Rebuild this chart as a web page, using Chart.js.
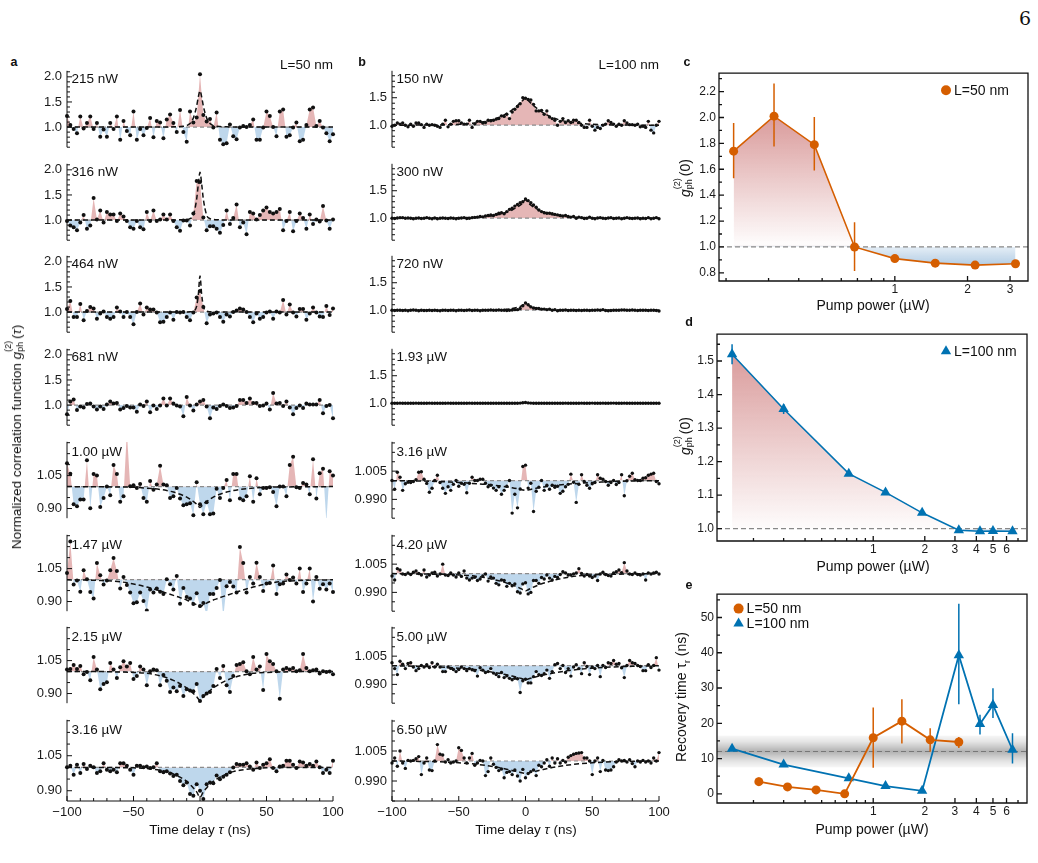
<!DOCTYPE html>
<html>
<head>
<meta charset="utf-8">
<title>Photon correlation g2 vs pump power</title>
<script src="https://cdn.jsdelivr.net/npm/chart.js@4.4.1/dist/chart.umd.min.js"></script>
<style>
  html, body { margin: 0; padding: 0; background: #fff; }
  body { position: relative; width: 1038px; height: 863px; overflow: hidden;
         font-family: "Liberation Sans", Arial, sans-serif; color: #111; }
  canvas { position: absolute; }
  .tx { position: absolute; white-space: nowrap; line-height: 1; font-size: 13.5px; z-index: 2; }
  .c { transform: translate(-50%, -50%); }
  .l { transform: translate(0, -50%); }
  .r { transform: translate(-100%, -50%); }
  .rot { transform: translate(-50%, -50%) rotate(-90deg); }
  .pl { font-weight: bold; font-size: 12.5px; }
  .ss { position: relative; display: inline-block; width: 13px; height: 1em; }
  .ss .up { position: absolute; left: 0; top: -3px; font-size: 9px; }
  .ss .dn { position: absolute; left: 0; bottom: -4px; font-size: 9px; }
</style>
</head>
<body>
<div class="tx c" style="left:1025px;top:18px;font-family:'DejaVu Serif','Liberation Serif',serif;font-size:19px">6</div>
<div class="tx pl c" style="left:14px;top:62px">a</div>
<div class="tx pl c" style="left:362px;top:62px">b</div>
<div class="tx pl c" style="left:687px;top:62px">c</div>
<div class="tx pl c" style="left:689px;top:322px">d</div>
<div class="tx pl c" style="left:689px;top:585px">e</div>
<div class="tx r" style="left:333px;top:65px">L=50 nm</div>
<div class="tx r" style="left:659px;top:65px">L=100 nm</div>
<div class="tx rot" style="left:15px;top:437px">Normalized correlation function <i>g</i><span class="ss"><span class="up">(2)</span><span class="dn">ph</span></span>(<i>τ</i>)</div>
<div class="tx c" style="left:200px;top:830px">Time delay <i>τ</i> (ns)</div>
<div class="tx c" style="left:526px;top:830px">Time delay <i>τ</i> (ns)</div>
<div class="tx rot" style="left:684px;top:178px;font-size:14px"><i>g</i><span class="ss"><span class="up">(2)</span><span class="dn">ph</span></span>(0)</div>
<div class="tx c" style="left:873px;top:305px;font-size:14px">Pump power (µW)</div>
<div class="tx rot" style="left:684px;top:436px;font-size:14px"><i>g</i><span class="ss"><span class="up">(2)</span><span class="dn">ph</span></span>(0)</div>
<div class="tx c" style="left:873px;top:566px;font-size:14px">Pump power (µW)</div>
<div class="tx rot" style="left:683px;top:697px;font-size:14px">Recovery time τ<sub style="font-size:9px">r</sub>&nbsp;(ns)</div>
<div class="tx c" style="left:872px;top:829px;font-size:14px">Pump power (µW)</div>

<script>
// ---- time bins ----
const tauA = [-100,-97.5,-95,-92.5,-90,-87.5,-85,-82.5,-80,-77.5,-75,-72.5,-70,-67.5,-65,-62.5,-60,-57.5,-55,-52.5,
  -50,-47.5,-45,-42.5,-40,-37.5,-35,-32.5,-30,-27.5,-25,-22.5,-20,-17.5,-15,-12.5,-10,-7.5,-5,-2.5,
  0,2.5,5,7.5,10,12.5,15,17.5,20,22.5,25,27.5,30,32.5,35,37.5,40,42.5,45,47.5,
  50,52.5,55,57.5,60,62.5,65,67.5,70,72.5,75,77.5,80,82.5,85,87.5,90,92.5,95,97.5,100];
const tauB = [-100,-98,-96,-94,-92,-90,-88,-86,-84,-82,-80,-78,-76,-74,-72,-70,-68,-66,-64,-62,
  -60,-58,-56,-54,-52,-50,-48,-46,-44,-42,-40,-38,-36,-34,-32,-30,-28,-26,-24,-22,
  -20,-18,-16,-14,-12,-10,-8,-6,-4,-2,0,2,4,6,8,10,12,14,16,18,
  20,22,24,26,28,30,32,34,36,38,40,42,44,46,48,50,52,54,56,58,
  60,62,64,66,68,70,72,74,76,78,80,82,84,86,88,90,92,94,96,98,100];

const powersA = ['215 nW', '316 nW', '464 nW', '681 nW', '1.00 µW', '1.47 µW', '2.15 µW', '3.16 µW'];
const powersB = ['150 nW', '300 nW', '720 nW', '1.93 µW', '3.16 µW', '4.20 µW', '5.00 µW', '6.50 µW'];

// ---- panel a, L=50 nm ----
const gA1 = [1.22,1.04,0.96,0.88,1.21,0.97,1.08,1.21,0.96,1.08,0.81,0.95,0.81,1.08,0.96,1.21,0.75,1.12,0.92,0.84,
  1.31,0.75,0.96,0.84,0.98,1.18,0.80,1.12,1.09,0.78,1.15,1.25,1.08,0.90,1.34,0.90,0.71,1.31,1.09,1.19,
  2.05,1.24,1.11,1.16,0.99,1.29,0.75,0.66,0.68,1.05,0.82,0.76,0.99,1.02,1.00,1.04,1.15,0.75,0.75,0.99,1.31,
  1.22,1.00,0.82,1.31,1.35,0.81,0.84,0.99,1.09,0.72,0.75,1.04,1.35,1.39,1.02,1.12,0.99,0.88,0.72,0.86];
const gA2 = [0.98,0.89,0.86,0.80,0.95,1.10,0.83,0.89,1.44,1.01,1.19,0.95,1.16,1.11,1.11,0.98,1.13,1.07,0.98,0.86,
  0.83,0.98,0.86,0.82,1.16,0.98,1.19,0.98,1.01,1.11,1.01,1.11,0.98,0.86,0.79,0.99,0.99,0.89,1.13,1.78,
  1.76,1.05,0.80,0.88,0.88,0.83,0.75,0.90,1.19,0.92,1.04,1.31,0.86,0.95,0.72,1.16,1.13,1.01,1.10,1.19,1.25,
  1.16,1.13,1.16,1.22,0.80,0.98,1.16,0.78,0.98,1.13,1.04,0.83,1.11,0.92,1.01,0.97,1.28,0.99,0.83,1.01];
const gA3 = [1.06,1.22,0.90,0.90,1.16,0.84,1.02,1.10,1.07,0.87,0.97,1.01,0.90,0.87,0.90,1.09,1.01,0.90,1.00,0.90,
  0.76,1.00,1.17,0.95,1.09,1.05,1.05,0.99,0.80,0.81,0.90,0.99,0.85,1.00,0.99,1.00,0.90,0.84,0.99,1.29,
  1.42,1.10,0.78,0.95,0.97,0.99,0.90,0.81,0.95,0.91,1.00,1.03,1.07,1.05,1.00,0.90,0.80,0.97,0.87,0.90,0.99,
  1.01,0.87,1.01,0.99,1.24,0.95,1.15,0.99,0.91,1.06,1.06,0.85,0.97,1.09,0.99,0.91,0.90,1.12,0.94,1.07];
const gA4 = [0.82,1.07,1.11,0.90,0.97,0.95,1.02,1.03,0.97,0.91,0.97,0.92,1.01,1.07,1.03,1.04,0.91,0.94,0.98,0.95,
  0.95,0.87,1.01,0.98,1.07,0.86,0.99,0.92,0.99,1.13,0.99,1.13,1.03,0.99,0.97,0.78,1.16,0.99,0.89,1.01,
  1.07,1.10,0.97,0.74,0.95,0.92,0.98,1.01,0.98,0.94,0.95,0.98,1.10,1.10,1.04,1.13,1.04,1.04,0.98,0.99,1.03,
  0.91,1.24,1.03,1.04,0.98,1.07,0.95,0.82,0.94,0.99,0.94,1.03,1.01,1.01,1.01,1.10,0.84,0.98,1.00,0.74];
const gA5 = [1.106,1.058,0.920,0.911,0.941,0.941,1.120,0.901,1.057,1.051,0.907,0.948,1.000,0.961,1.098,1.057,0.931,0.956,1.250,1.002,
  1.006,0.993,1.012,0.948,0.931,1.025,0.986,1.010,1.095,1.010,1.006,0.948,0.956,0.993,0.946,0.915,0.920,0.924,0.869,1.020,
  0.920,0.874,0.929,0.874,0.877,0.990,0.948,0.993,1.030,0.938,1.057,1.057,0.946,0.938,0.956,1.047,0.931,1.038,0.965,0.993,0.993,
  0.997,0.975,0.911,1.000,1.000,0.956,1.098,1.136,0.997,0.993,1.016,1.010,0.965,1.125,0.946,1.061,1.081,0.840,1.070,1.051];
const gA6 = [1.030,1.173,0.978,0.996,0.945,1.043,1.002,0.944,0.914,1.075,1.020,0.978,0.996,1.043,1.098,1.039,0.959,1.012,0.975,0.941,
  0.892,0.897,0.941,0.903,0.859,0.955,0.941,0.959,0.945,0.934,1.002,0.979,0.955,1.016,0.890,0.962,0.921,0.914,0.889,0.938,
  0.880,0.893,0.835,0.934,0.934,0.962,0.998,0.829,0.970,0.989,0.968,0.941,1.148,1.075,0.941,1.012,0.982,1.077,1.012,0.948,0.982,
  0.984,1.064,0.934,0.979,0.982,1.023,0.998,1.009,0.982,1.050,0.944,0.982,1.050,0.900,1.012,0.958,0.979,0.955,0.982,0.944];
const gA7 = [1.009,1.012,1.030,1.012,1.025,0.988,0.998,0.961,1.066,1.009,0.920,0.943,0.951,1.039,1.009,0.971,1.020,1.047,1.023,1.039,
  0.966,0.980,1.023,1.009,0.938,1.002,1.009,1.006,0.938,0.985,0.958,0.907,0.927,0.911,0.934,0.889,0.920,0.914,0.911,0.943,
  0.866,0.889,0.900,0.907,0.934,1.012,0.971,1.025,0.938,0.907,0.980,1.030,1.034,1.043,1.002,0.988,1.066,1.009,1.023,0.916,1.080,
  1.047,1.034,1.002,0.876,1.009,1.016,1.009,1.016,1.002,1.006,1.080,1.016,1.002,1.006,1.009,0.991,1.002,0.998,1.000,0.988];
const gA8 = [1.001,1.007,0.969,1.011,0.976,1.015,0.993,1.007,1.001,0.976,0.983,1.018,0.990,0.983,0.990,0.979,1.018,1.018,1.007,0.990,
  0.969,1.007,1.007,1.001,1.004,0.997,1.001,1.018,0.983,0.979,0.983,0.974,0.963,0.969,0.942,0.924,0.935,0.886,0.879,0.928,
  0.900,0.865,0.928,0.935,0.932,0.965,0.949,0.960,0.969,0.979,1.000,1.015,1.011,1.011,1.018,1.004,0.990,1.021,0.997,1.011,1.018,
  1.035,0.997,0.983,1.004,1.007,1.029,1.029,1.011,0.997,1.025,1.021,1.007,1.015,1.007,1.025,1.001,0.976,0.990,0.976,1.029];

// ---- panel b, L=100 nm ----
const gB1 = [0.98,1.0,1.04,1.02,1.04,1.0,0.97,1.02,0.98,1.04,1.04,1.01,0.96,1.02,1.0,1.01,1.0,0.98,0.96,1.02,
  1.09,0.97,1.02,1.07,1.08,1.08,1.04,1.02,1.02,1.09,0.96,1.02,1.07,1.07,1.04,1.05,1.09,1.08,1.09,1.11,
  1.12,1.17,1.16,1.2,1.12,1.24,1.29,1.34,1.39,1.5,1.49,1.47,1.46,1.38,1.26,1.26,1.27,1.2,1.26,1.15,
  1.12,1.09,1.0,1.07,1.12,1.05,1.08,1.05,1.09,1.09,1.05,1.0,0.96,0.96,1.09,0.98,0.91,0.96,0.94,1.0,
  1.02,1.08,1.05,1.02,0.98,1.02,1.0,1.08,1.04,1.01,1.01,1.0,1.02,0.97,0.98,0.96,1.07,0.91,0.86,1.0,1.07];
const gB2 = [1.0,0.995,1.005,1.01,1.01,1.0,1.005,1.0,0.99,1.0,1.005,0.995,1.0,1.01,1.0,0.99,1.005,0.99,1.0,1.005,
  1.0,0.995,1.005,1.0,0.99,1.0,1.005,1.01,0.995,1.0,1.01,1.015,1.02,1.03,1.025,1.04,1.05,1.06,1.05,1.07,
  1.09,1.1,1.08,1.12,1.16,1.18,1.22,1.25,1.28,1.3,1.35,1.32,1.28,1.24,1.2,1.15,1.12,1.1,1.09,1.09,
  1.08,1.07,1.06,1.05,1.04,1.05,1.03,1.02,1.03,1.0,1.02,1.01,0.995,1.0,1.02,1.0,0.99,1.005,1.01,1.0,
  0.995,1.005,1.01,0.995,1.0,1.005,0.99,1.0,1.01,1.0,0.995,1.0,1.005,0.99,1.0,0.995,1.01,0.99,1.0,1.01,0.99];
const gB3 = [1.0,0.995,1.0,1.0,0.995,1.0,0.99,1.0,1.005,1.0,0.99,1.0,0.995,0.995,1.0,0.995,1.0,0.995,0.99,1.0,
  1.0,0.995,1.0,1.0,0.99,1.0,1.0,0.995,1.0,1.005,0.995,1.0,1.0,0.99,1.0,1.0,1.0,1.005,1.0,1.0,
  1.005,1.0,1.0,0.995,1.0,1.005,1.01,1.01,1.03,1.08,1.13,1.1,1.06,1.04,1.03,1.03,1.02,1.02,1.01,1.02,
  1.0,1.01,0.99,1.0,1.0,1.005,0.995,1.0,1.0,0.995,1.0,0.995,1.0,1.0,0.995,1.0,1.0,1.005,1.0,1.01,
  0.995,0.99,0.995,1.0,1.0,1.0,1.005,1.005,1.0,1.0,1.005,1.0,0.995,1.0,1.0,1.0,0.995,1.0,1.0,0.995,0.985];
const gB4 = [1.0,0.998,1.0,1.001,0.999,1.0,1.0,0.998,1.0,1.001,1.0,0.999,1.0,1.0,1.001,0.999,1.0,1.0,1.0,0.998,
  1.0,1.001,1.0,0.999,1.0,1.0,1.0,0.999,1.0,1.001,1.0,1.0,0.999,1.0,1.0,0.998,1.0,0.999,1.0,1.0,
  0.998,1.0,0.999,1.0,1.0,0.999,1.0,1.0,1.002,1.008,1.012,1.006,1.002,1.0,1.0,0.999,1.0,1.0,1.0,0.999,
  1.0,1.0,0.998,1.0,1.0,1.001,1.0,0.999,1.0,1.0,1.0,1.001,1.0,1.0,1.0,1.002,1.0,0.999,1.0,1.001,
  1.0,1.0,1.001,1.002,1.0,0.999,1.0,1.001,1.0,1.0,1.0,0.999,1.0,1.0,1.0,1.0,0.999,1.0,1.0,1.0,1.0];
const gB5 = [1.0,0.9954,1.0044,1.0018,0.9948,0.9983,0.9991,0.999,0.9995,1.0005,1.0044,1.0047,1.0007,0.9985,0.9938,0.9959,1.0,1.0028,0.999,0.9959,
  0.9932,0.9967,0.9948,0.998,1.0,0.997,0.9986,0.998,0.9935,0.9986,1.0018,1.0,1.0,1.0007,1.0007,0.9986,0.9967,0.9975,0.996,0.9948,
  0.9967,0.9927,0.9948,0.997,1.0,0.9827,0.9927,0.9855,0.9955,1.0075,1.0082,0.996,0.9986,0.9836,0.9943,0.9965,1.0,0.9948,0.9975,0.9954,
  0.9975,0.9964,0.997,0.9932,0.9943,0.9967,0.998,1.0034,0.9991,0.9884,0.998,1.0031,0.9995,0.9975,0.9959,0.9983,0.999,1.0031,1.0012,1.0007,
  0.9995,0.9975,0.999,1.0,0.9979,0.999,1.0031,0.9919,0.9999,1.0023,1.0039,1.0005,1.0,1.0,1.0012,1.0015,1.0028,1.0034,1.0039,0.9995,0.9983];
const gB6 = [0.9987,0.9966,1.0026,1.0019,0.9998,0.9995,1.0003,0.9995,1.0007,1.0014,1.0,0.9992,1.0019,0.9982,0.9992,1.0003,1.0007,0.9987,0.9998,1.005,
  0.9992,0.999,1.0003,0.9992,0.9982,1.0003,0.9985,1.0014,0.9976,0.9966,0.9976,0.998,0.9963,0.9971,0.9987,0.9998,0.996,0.9982,0.9976,0.9948,
  0.994,0.9966,0.9963,0.9932,0.9948,0.9935,0.9945,0.9903,0.9897,0.9945,0.9951,0.9892,0.99,0.9963,0.9963,0.9948,0.9979,0.9971,0.9992,0.9976,
  0.9966,0.9985,0.9979,0.9995,1.001,1.0003,0.9992,0.9992,0.9998,1.0003,1.0026,1.0,0.9987,0.9995,0.9987,0.9979,0.9987,0.9963,0.9998,1.0007,
  0.9995,0.999,0.9987,1.0003,1.001,1.0019,1.0005,1.0058,1.0014,0.9998,0.9995,1.0003,0.9995,0.9992,0.9998,0.9966,1.0003,0.9998,1.0003,1.0007,0.9998];
const gB7 = [1.0015,0.9984,0.9952,1.0023,1.0007,0.9984,1.0011,1.0015,0.9992,0.9973,0.9984,1.0,0.9992,1.0004,0.999,1.0015,0.9992,1.0007,0.9992,0.9968,
  0.9968,0.9992,0.9985,0.9979,0.9968,0.9979,0.9992,0.9984,0.9973,0.9984,0.9978,0.9973,0.9944,0.9988,0.9976,0.9963,0.9968,0.9984,0.996,0.9952,
  0.9941,0.9963,0.9936,0.9945,0.9932,0.9925,0.9932,0.993,0.9857,0.9919,0.9927,0.9908,0.9908,0.9941,0.9968,0.9952,0.9947,0.9957,0.9976,0.9932,
  0.9968,1.0004,1.0011,0.9984,1.0,0.9963,0.9984,0.9944,0.9992,1.0004,0.9984,0.9957,1.0015,0.9995,0.9952,0.9992,0.9984,1.0,0.9941,1.0,
  0.999,1.0015,1.0011,1.0027,1.0007,1.0011,0.9988,0.9936,1.0,1.0027,1.0015,1.0011,1.0,0.9995,0.9973,0.9973,1.0005,0.999,1.0,1.0042,0.9976];
const gB8 = [0.999,1.0015,0.9974,1.005,0.999,0.9963,1.0003,1.0,1.0003,1.0011,1.0022,0.9932,0.999,1.0015,0.9955,0.9952,1.0,1.0082,1.0034,1.003,
  0.9995,1.0006,0.999,0.9995,1.0,1.0066,1.0053,1.0015,0.999,1.0015,1.0038,0.9979,0.999,1.0003,1.0,0.9927,0.9947,1.0015,0.9984,0.9968,
  0.9952,0.996,0.9916,0.9943,0.9947,0.9932,0.9955,0.9925,0.99,0.9958,0.9916,0.9937,0.9947,0.9955,0.9927,0.9979,0.9971,0.999,1.0006,0.9974,
  1.0015,0.999,1.0011,0.999,1.0003,0.9995,1.0019,1.0027,1.0034,1.0038,1.004,1.0042,1.0015,1.0015,1.0,0.9932,1.0,1.0015,0.9947,1.0003,
  0.9955,0.9952,0.9955,0.9971,0.9995,1.0006,1.0,1.0003,0.9995,1.0006,0.9987,0.9971,1.0,0.9995,1.0003,0.9995,1.0,0.999,1.0015,1.0,1.0042];

// ---- fitted curves (dashed) ----
const fitTApeak = [-100,-30,-20,-15,-12.5,-10,-7.5,-5,-2.5,-1.25,0,1.25,2.5,5,7.5,10,12.5,15,20,30,100];
const fitA1 = [1,1.002,1.005,1.01,1.015,1.03,1.07,1.18,1.42,1.6,1.72,1.6,1.42,1.18,1.07,1.03,1.015,1.01,1.005,1.002,1];
const fitA2 = [1,1.001,1.003,1.005,1.008,1.012,1.03,1.1,1.42,1.72,1.95,1.72,1.42,1.1,1.03,1.012,1.008,1.005,1.003,1.001,1];
const fitA3 = [1,1,1,1,1.001,1.003,1.006,1.02,1.12,1.35,1.72,1.35,1.12,1.02,1.006,1.003,1.001,1,1,1,1];
const fitTAdip = [-100,-75,-60,-50,-40,-30,-25,-20,-15,-12.5,-10,-7.5,-5,-2.5,0,2.5,5,7.5,10,12.5,15,20,25,30,40,50,60,75,100];
const fitA5 = [1.0,0.999,0.998,0.997,0.993,0.987,0.982,0.975,0.965,0.959,0.952,0.943,0.932,0.92,0.905,
  0.92,0.932,0.943,0.952,0.959,0.965,0.975,0.982,0.987,0.993,0.997,0.998,0.999,1.0];
const fitA6 = [0.999,0.996,0.99,0.98,0.966,0.948,0.938,0.928,0.918,0.912,0.907,0.9,0.893,0.885,0.875,
  0.885,0.893,0.9,0.907,0.912,0.918,0.928,0.938,0.948,0.966,0.98,0.99,0.996,0.999];
const fitA7 = [1.0,1.0,0.998,0.996,0.992,0.981,0.972,0.96,0.945,0.935,0.926,0.913,0.9,0.885,0.87,
  0.885,0.9,0.913,0.926,0.935,0.945,0.96,0.972,0.981,0.992,0.996,0.998,1.0,1.0];
const fitA8 = [1.0,1.0,0.999,0.998,0.995,0.988,0.982,0.972,0.958,0.95,0.94,0.927,0.912,0.895,0.872,
  0.895,0.912,0.927,0.94,0.95,0.958,0.972,0.982,0.988,0.995,0.998,0.999,1.0,1.0];
const fitTB = [-100,-80,-70,-60,-50,-40,-30,-20,-15,-10,-5,-2,0,2,5,10,15,20,30,40,50,60,70,80,100];
const fitB1 = [1.0,1.002,1.004,1.008,1.017,1.035,1.07,1.14,1.2,1.28,1.38,1.45,1.5,1.45,1.38,1.28,1.2,1.14,1.07,1.035,1.017,1.008,1.004,1.002,1.0];
const fitB2 = [1.0,1.001,1.002,1.003,1.006,1.014,1.03,1.065,1.1,1.15,1.22,1.28,1.34,1.28,1.22,1.15,1.1,1.065,1.03,1.014,1.006,1.003,1.002,1.001,1.0];
const fitB3 = [1.0,1.0,1.0,1.0,1.0,1.001,1.002,1.007,1.015,1.03,1.06,1.09,1.12,1.09,1.06,1.03,1.015,1.007,1.002,1.001,1.0,1.0,1.0,1.0,1.0];
const fitB4 = [1.0,1.0,1.0,1.0,1.0,1.0,1.0,1.0,1.0,1.001,1.003,1.007,1.012,1.007,1.003,1.001,1.0,1.0,1.0,1.0,1.0,1.0,1.0,1.0,1.0];
const fitB5 = [0.9999,0.9998,0.9996,0.9993,0.999,0.9985,0.998,0.9972,0.9967,0.9962,0.9955,0.995,0.9948,0.995,0.9955,0.9962,0.9967,0.9972,0.998,0.9985,0.999,0.9993,0.9996,0.9998,0.9999];
const fitB6 = [1.0,0.9998,0.9997,0.9996,0.9993,0.9988,0.9978,0.9962,0.9952,0.994,0.9925,0.9914,0.9908,0.9914,0.9925,0.994,0.9952,0.9962,0.9978,0.9988,0.9993,0.9996,0.9997,0.9998,1.0];
const fitB7 = [0.9999,0.9996,0.9994,0.9991,0.9986,0.998,0.9971,0.9959,0.9952,0.9944,0.9935,0.9929,0.9925,0.9929,0.9935,0.9944,0.9952,0.9959,0.9971,0.998,0.9986,0.9991,0.9994,0.9996,0.9999];
const fitB8 = [1.0,0.9998,0.9997,0.9995,0.9991,0.9986,0.9978,0.9967,0.996,0.9953,0.9945,0.994,0.9937,0.994,0.9945,0.9953,0.996,0.9967,0.9978,0.9986,0.9991,0.9995,0.9997,0.9998,1.0];

// ---- panels c, d, e ----
const powC = [0.215,0.316,0.464,0.681,1.00,1.47,2.15,3.16];
const g0C = [1.74,2.01,1.79,1.00,0.91,0.875,0.86,0.87];
const g0CLo = [1.53,1.775,1.59,0.815,0.895,0.868,0.853,0.862];
const g0CHi = [1.958,2.263,2.003,1.19,0.925,0.884,0.868,0.878];
const powD = [0.150,0.300,0.720,1.18,1.93,3.16,4.20,5.00,6.50];
const g0D = [1.52,1.357,1.164,1.108,1.047,0.995,0.992,0.993,0.992];
const g0DLo = [1.49,1.342,1.157,1.103,1.042,0.991,0.989,0.990,0.989];
const g0DHi = [1.55,1.372,1.171,1.113,1.052,0.999,0.995,0.996,0.995];
const tauRC = [3.45,1.96,1.12,0.0,15.9,20.6,15.3,14.7];
const tauRCLo = [2.3,1.5,0.7,-0.4,7.4,14.3,11.9,13.0];
const tauRCHi = [4.6,2.4,1.5,0.4,24.5,26.8,18.6,16.1];
const tauRD = [12.8,8.3,4.4,2.2,0.84,39.3,19.8,25.2,12.5];
const tauRDLo = [12.3,7.9,4.0,1.8,0.5,25.4,16.8,21.5,8.6];
const tauRDHi = [13.3,8.7,4.8,2.6,1.2,53.9,22.4,29.9,17.2];

// ---- tick sets ----
const yTicksHiA = [0.6,0.7,0.8,0.9,1.0,1.1,1.2,1.3,1.4,1.5,1.6,1.7,1.8,1.9,2.0,2.1];
const yMajorHiA = [1.0,1.5,2.0];
const yTicksLoA = [0.9,0.95,1.0,1.05,1.1,1.15,1.2];
const yMajorLoA = [0.9,1.05];
const yTicksHiB = [0.6,0.7,0.8,0.9,1.0,1.1,1.2,1.3,1.4,1.5,1.6,1.7,1.8,1.9];
const yMajorHiB = [1.0,1.5];
const yTicksLoB = [0.98,0.985,0.99,0.995,1.0,1.005,1.01,1.015,1.02];
const yMajorLoB = [0.99,1.005];
const timeTicks = [-100,-90,-80,-70,-60,-50,-40,-30,-20,-10,0,10,20,30,40,50,60,70,80,90,100];
const timeMajor = [-100,-50,0,50,100];
const powTicks = [0.2,0.3,0.4,0.5,0.6,0.7,0.8,0.9,1,2,3,4,5,6,7];
const powMajorC = [1,2,3];
const powMajorDE = [1,2,3,4,5,6];
const yTicksC = [0.8,0.9,1.0,1.1,1.2,1.3,1.4,1.5,1.6,1.7,1.8,1.9,2.0,2.1,2.2,2.3];
const yMajorC = [0.8,1.0,1.2,1.4,1.6,1.8,2.0,2.2];
const yTicksD = [1.0,1.05,1.1,1.15,1.2,1.25,1.3,1.35,1.4,1.45,1.5,1.55];
const yMajorD = [1.0,1.1,1.2,1.3,1.4,1.5];
const yTicksE = [0,5,10,15,20,25,30,35,40,45,50,55];
const yMajorE = [0,10,20,30,40,50];

const ORANGE = '#D55E00';
const BLUE = '#0072B2';
const RED_FILL = 'rgba(200,100,100,0.47)';
const BLUE_FILL = 'rgba(100,160,210,0.42)';

Chart.defaults.font.family = '"Liberation Sans", Arial, sans-serif';
Chart.defaults.font.size = 12;
Chart.defaults.color = '#1a1a1a';
Chart.defaults.animation = false;

// inward tick marks + axis lines
const axesIn = {
  id: 'axesIn',
  afterDatasetsDraw(chart, args, o) {
    const {ctx, chartArea: a, scales: {x, y}} = chart;
    ctx.save();
    ctx.strokeStyle = '#111';
    ctx.lineWidth = o.lw || 1;
    ctx.beginPath();
    if (o.box) {
      ctx.rect(a.left, a.top, a.right - a.left, a.bottom - a.top);
    } else {
      ctx.moveTo(a.left, a.top); ctx.lineTo(a.left, a.bottom);
      if (o.bottom) { ctx.moveTo(a.left, a.bottom); ctx.lineTo(a.right, a.bottom); }
    }
    y.ticks.forEach(t => {
      const p = y.getPixelForValue(t.value);
      ctx.moveTo(a.left, p); ctx.lineTo(a.left + (t.label ? 5 : 3), p);
    });
    if (o.box || o.bottom) {
      x.ticks.forEach(t => {
        const p = x.getPixelForValue(t.value);
        ctx.moveTo(p, a.bottom); ctx.lineTo(p, a.bottom - (t.label ? 5 : 3));
      });
    }
    ctx.stroke();
    ctx.restore();
  }
};

const refLine = {
  id: 'refLine',
  beforeDatasetsDraw(chart, args, o) {
    if (o.value === undefined) return;
    const {ctx, chartArea: a, scales: {y}} = chart;
    const p = y.getPixelForValue(o.value);
    ctx.save();
    ctx.strokeStyle = o.color || '#888';
    ctx.lineWidth = o.width || 1.2;
    ctx.setLineDash(o.dash || [4, 3]);
    ctx.beginPath(); ctx.moveTo(a.left, p); ctx.lineTo(a.right, p); ctx.stroke();
    ctx.restore();
  }
};

const errBars = {
  id: 'errBars',
  beforeDatasetDraw(chart, args) {
    const ds = chart.data.datasets[args.index];
    if (!ds.errLo) return;
    const {ctx, scales: {y}} = chart;
    ctx.save();
    ctx.strokeStyle = ds.borderColor;
    ctx.lineWidth = 1.5;
    ctx.beginPath();
    args.meta.data.forEach((pt, i) => {
      ctx.moveTo(pt.x, y.getPixelForValue(ds.errLo[i]));
      ctx.lineTo(pt.x, y.getPixelForValue(ds.errHi[i]));
    });
    ctx.stroke();
    ctx.restore();
  }
};

const band = {
  id: 'band',
  beforeDatasetsDraw(chart, args, o) {
    if (o.lo === undefined) return;
    const {ctx, chartArea: a, scales: {y}} = chart;
    const top = y.getPixelForValue(o.hi), bot = y.getPixelForValue(o.lo);
    const g = ctx.createLinearGradient(0, top, 0, bot);
    g.addColorStop(0, 'rgba(0,0,0,0.03)');
    g.addColorStop(0.2, 'rgba(0,0,0,0.11)');
    g.addColorStop(0.5, 'rgba(0,0,0,0.3)');
    g.addColorStop(0.8, 'rgba(0,0,0,0.11)');
    g.addColorStop(1, 'rgba(0,0,0,0.03)');
    ctx.save();
    ctx.fillStyle = g;
    ctx.fillRect(a.left, top, a.right - a.left, bot - top);
    ctx.restore();
  }
};

const legendIn = {
  id: 'legendIn',
  afterDatasetsDraw(chart, args, o) {
    if (!o.items) return;
    const {ctx, chartArea: a} = chart;
    ctx.save();
    ctx.font = '14px "Liberation Sans", Arial, sans-serif';
    ctx.textBaseline = 'middle';
    o.items.forEach((it, k) => {
      const x = a.left + o.x, y = a.top + o.y + k * (o.dy || 0);
      ctx.fillStyle = it.color;
      ctx.strokeStyle = it.color;
      Chart.helpers.drawPoint(ctx, {pointStyle: it.style, radius: it.r, borderWidth: 0, rotation: 0}, x, y);
      ctx.fillStyle = '#111';
      ctx.fillText(it.text, x + 8, y + 1);
    });
    ctx.restore();
  }
};

function addCanvas(area, yw, xh, pr) {
  const PT = 8, PB = 8, PR = pr || 16;
  const c = document.createElement('canvas');
  c.width = area.r - area.l + yw + PR;
  c.height = area.b - area.t + PT + PB + xh;
  c.style.left = (area.l - yw) + 'px';
  c.style.top = (area.t - PT) + 'px';
  document.body.appendChild(c);
  return {canvas: c, padding: {left: 0, top: PT, right: PR, bottom: PB}};
}

function addText(txt, x, y) {
  const d = document.createElement('div');
  d.className = 'tx l';
  d.style.left = x + 'px';
  d.style.top = y + 'px';
  d.textContent = txt;
  document.body.appendChild(d);
}

const fmtTime = v => (v < 0 ? '\u2212' + Math.abs(v) : String(v));

const yKinds = {
  hiA: {min: 0.6, max: 2.12, ticks: yTicksHiA, major: yMajorHiA, dec: 1},
  loA: {min: 0.856, max: 1.204, ticks: yTicksLoA, major: yMajorLoA, dec: 2},
  hiB: {min: 0.6, max: 1.99, ticks: yTicksHiB, major: yMajorHiB, dec: 1},
  loB: {min: 0.98, max: 1.0206, ticks: yTicksLoB, major: yMajorLoB, dec: 3}
};

function smallPanel(p) {
  const k = yKinds[p.kind];
  const xh = p.showX ? 26 : 0;
  const {canvas, padding} = addCanvas(p.area, 46, xh);
  const pts = p.tau.map((t, i) => ({x: t, y: p.g[i]}));
  const fit = p.fitT.map((t, i) => ({x: t, y: p.fit[i]}));
  new Chart(canvas, {
    type: 'line',
    data: {datasets: [
      {data: pts, borderWidth: 0, borderColor: 'rgba(0,0,0,0)', tension: 0,
       pointRadius: p.r, pointBackgroundColor: '#111', pointBorderWidth: 0,
       fill: {target: {value: 1}, above: RED_FILL, below: BLUE_FILL},
       clip: {left: 6, right: 6, top: 0, bottom: 0}},
      {data: fit, borderColor: '#111', borderWidth: 1.5, borderDash: [5, 3],
       pointRadius: 0, fill: false, cubicInterpolationMode: 'monotone'}
    ]},
    options: {
      responsive: false, animation: false, events: [],
      layout: {padding},
      plugins: {
        legend: {display: false}, tooltip: {enabled: false},
        filler: {drawTime: 'beforeDatasetsDraw'},
        axesIn: {bottom: p.showX, lw: 1},
        refLine: {value: 1, color: '#8c8c8c', dash: [4, 3], width: 1.2}
      },
      scales: {
        x: {type: 'linear', min: -100, max: 100, display: p.showX,
            grid: {display: false, drawTicks: false}, border: {display: false},
            afterBuildTicks: s => { s.ticks = timeTicks.map(v => ({value: v})); },
            ticks: {autoSkip: false, maxRotation: 0, padding: 4, font: {size: 13},
                    callback: v => (timeMajor.includes(v) ? fmtTime(v) : '')},
            afterFit: s => { s.height = xh; }},
        y: {type: 'linear', min: k.min, max: k.max,
            grid: {display: false, drawTicks: false}, border: {display: false},
            afterBuildTicks: s => { s.ticks = k.ticks.map(v => ({value: v})); },
            ticks: {autoSkip: false, padding: 5, font: {size: 13},
                    callback: v => (k.major.includes(v) ? v.toFixed(k.dec) : '')},
            afterFit: s => { s.width = 46; }}
      }
    },
    plugins: [axesIn, refLine]
  });
}

const rowTop = i => Math.round(66 + 92.7 * i);
const colA = {l: 67, r: 333}, colB = {l: 392, r: 659};

const panelsA = [
  {g: gA1, fitT: fitTApeak, fit: fitA1, kind: 'hiA'},
  {g: gA2, fitT: fitTApeak, fit: fitA2, kind: 'hiA'},
  {g: gA3, fitT: fitTApeak, fit: fitA3, kind: 'hiA'},
  {g: gA4, fitT: [], fit: [], kind: 'hiA'},
  {g: gA5, fitT: fitTAdip, fit: fitA5, kind: 'loA'},
  {g: gA6, fitT: fitTAdip, fit: fitA6, kind: 'loA'},
  {g: gA7, fitT: fitTAdip, fit: fitA7, kind: 'loA'},
  {g: gA8, fitT: fitTAdip, fit: fitA8, kind: 'loA'}
];
const panelsB = [
  {g: gB1, fit: fitB1, kind: 'hiB'},
  {g: gB2, fit: fitB2, kind: 'hiB'},
  {g: gB3, fit: fitB3, kind: 'hiB'},
  {g: gB4, fit: fitB4, kind: 'hiB'},
  {g: gB5, fit: fitB5, kind: 'loB'},
  {g: gB6, fit: fitB6, kind: 'loB'},
  {g: gB7, fit: fitB7, kind: 'loB'},
  {g: gB8, fit: fitB8, kind: 'loB'}
];

panelsA.forEach((p, i) => {
  const t = rowTop(i);
  smallPanel({...p, tau: tauA, r: 2, showX: i === 7, area: {l: colA.l, r: colA.r, t, b: t + 86}});
  addText(powersA[i], 71.5, t + (i < 4 ? 13 : 14.5));
});
panelsB.forEach((p, i) => {
  const t = rowTop(i);
  smallPanel({...p, tau: tauB, fitT: fitTB, r: 1.7, showX: i === 7, area: {l: colB.l, r: colB.r, t, b: t + 86}});
  addText(powersB[i], 396.5, t + (i < 4 ? 13 : 14.5));
});

// shared options for the power-dependence panels
function powerScales(xMin, xMax, xMajor, yMin, yMax, yTicks, yMajor, yDec) {
  return {
    x: {type: 'logarithmic', min: xMin, max: xMax,
        grid: {display: false, drawTicks: false}, border: {display: false},
        afterBuildTicks: s => { s.ticks = powTicks.filter(v => v >= xMin && v <= xMax).map(v => ({value: v})); },
        ticks: {autoSkip: false, maxRotation: 0, padding: 1,
                callback: v => (xMajor.includes(v) ? String(v) : '')},
        afterFit: s => { s.height = 20; }},
    y: {type: 'linear', min: yMin, max: yMax,
        grid: {display: false, drawTicks: false}, border: {display: false},
        afterBuildTicks: s => { s.ticks = yTicks.map(v => ({value: v})); },
        ticks: {autoSkip: false, padding: 3,
                callback: v => (yMajor.includes(v) ? v.toFixed(yDec) : '')},
        afterFit: s => { s.width = 40; }}
  };
}

function g2Gradient(chart, top, mid) {
  const {ctx, chartArea, scales} = chart;
  if (!chartArea) return 'rgba(0,0,0,0)';
  const y = scales.y;
  const y0 = y.getPixelForValue(top), y1 = y.getPixelForValue(y.min);
  const f = v => Math.min(1, Math.max(0, (y.getPixelForValue(v) - y0) / (y1 - y0)));
  const g = ctx.createLinearGradient(0, y0, 0, y1);
  g.addColorStop(0, 'rgba(195,95,95,0.62)');
  g.addColorStop(f(mid), 'rgba(195,95,95,0.02)');
  g.addColorStop(f(1.0), 'rgba(110,160,205,0.18)');
  g.addColorStop(f(0.87), 'rgba(110,160,205,0.5)');
  g.addColorStop(1, 'rgba(110,160,205,0.5)');
  return g;
}

const commonPlugins = {
  legend: {display: false}, tooltip: {enabled: false},
  filler: {drawTime: 'beforeDatasetsDraw'},
  axesIn: {box: true, lw: 1.3}
};

// panel c
{
  const {canvas, padding} = addCanvas({l: 719, t: 71, r: 1028, b: 281}, 40, 20, 10);
  new Chart(canvas, {
    type: 'line',
    data: {datasets: [{
      data: powC.map((p, i) => ({x: p, y: g0C[i]})),
      errLo: g0CLo, errHi: g0CHi,
      borderColor: ORANGE, borderWidth: 1.6, tension: 0,
      pointStyle: 'circle', pointRadius: 4.5, pointBackgroundColor: ORANGE, pointBorderWidth: 0,
      fill: {target: {value: 1}},
      backgroundColor: c => g2Gradient(c.chart, 2.0, 1.02),
      clip: false
    }]},
    options: {
      responsive: false, animation: false, events: [], layout: {padding},
      plugins: {...commonPlugins,
        refLine: {value: 1, color: '#888', dash: [5, 3], width: 1.2},
        legendIn: {x: 227, y: 17, items: [{style: 'circle', r: 5, color: ORANGE, text: 'L=50 nm'}]}},
      scales: powerScales(0.187, 3.56, powMajorC, 0.737, 2.342, yTicksC, yMajorC, 1)
    },
    plugins: [axesIn, refLine, errBars, legendIn]
  });
}

// panel d
{
  const {canvas, padding} = addCanvas({l: 717, t: 332, r: 1027, b: 541}, 40, 20, 10);
  new Chart(canvas, {
    type: 'line',
    data: {datasets: [{
      data: powD.map((p, i) => ({x: p, y: g0D[i]})),
      errLo: g0DLo, errHi: g0DHi,
      borderColor: BLUE, borderWidth: 1.6, tension: 0,
      pointStyle: 'triangle', pointRadius: 6, pointBackgroundColor: BLUE, pointBorderWidth: 0,
      fill: {target: {value: 1}},
      backgroundColor: c => g2Gradient(c.chart, 1.52, 1.0),
      clip: false
    }]},
    options: {
      responsive: false, animation: false, events: [], layout: {padding},
      plugins: {...commonPlugins,
        refLine: {value: 1, color: '#888', dash: [5, 3], width: 1.2},
        legendIn: {x: 229, y: 17, items: [{style: 'triangle', r: 6, color: BLUE, text: 'L=100 nm'}]}},
      scales: powerScales(0.1225, 7.9, powMajorDE, 0.963, 1.58, yTicksD, yMajorD, 1)
    },
    plugins: [axesIn, refLine, errBars, legendIn]
  });
}

// panel e
{
  const {canvas, padding} = addCanvas({l: 717, t: 592, r: 1027, b: 803}, 40, 20, 10);
  new Chart(canvas, {
    type: 'line',
    data: {datasets: [
      {data: powC.map((p, i) => ({x: p, y: tauRC[i]})),
       errLo: tauRCLo, errHi: tauRCHi,
       borderColor: ORANGE, borderWidth: 1.8, tension: 0, fill: false,
       pointStyle: 'circle', pointRadius: 4.5, pointBackgroundColor: ORANGE, pointBorderWidth: 0, clip: false},
      {data: powD.map((p, i) => ({x: p, y: tauRD[i]})),
       errLo: tauRDLo, errHi: tauRDHi,
       borderColor: BLUE, borderWidth: 1.8, tension: 0, fill: false,
       pointStyle: 'triangle', pointRadius: 6, pointBackgroundColor: BLUE, pointBorderWidth: 0, clip: false}
    ]},
    options: {
      responsive: false, animation: false, events: [], layout: {padding},
      plugins: {...commonPlugins,
        band: {lo: 7.5, hi: 16.5},
        refLine: {value: 12, color: '#777', dash: [5, 3], width: 1.2},
        legendIn: {x: 21.6, y: 14.4, dy: 15, items: [
          {style: 'circle', r: 5, color: ORANGE, text: 'L=50 nm'},
          {style: 'triangle', r: 6, color: BLUE, text: 'L=100 nm'}]}},
      scales: powerScales(0.1225, 7.9, powMajorDE, -2.6, 56.6, yTicksE, yMajorE, 0)
    },
    plugins: [band, axesIn, refLine, errBars, legendIn]
  });
}
</script>
</body>
</html>
